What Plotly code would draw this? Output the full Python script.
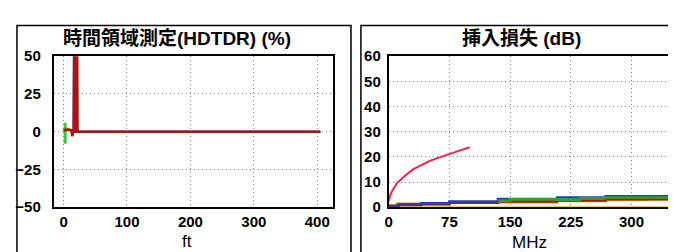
import plotly.graph_objects as go

W, H = 676, 252

# ---- Left panel: time-domain (HDTDR) % vs ft ----
tdr_red_x = [0, 6, 12, 14, 14.5, 16, 17, 17.5, 18.5, 19, 20, 20.5, 21.5, 22, 23, 25, 405]
tdr_red_y = [1, 1.5, 1, -3, 0, 0, 60, 0, 60, 0, 60, 0, 60, 0, 0, 0, 0]
tdr_blue_x = [16, 16.5, 17, 405]
tdr_blue_y = [0, 60, 0, 0]
tdr_green_x = [2.5, 2.5, None, 20, 24]
tdr_green_y = [-8, 6, None, 0.5, 0.5]
tdr_orange_x = [0, 5, 10, 15]
tdr_orange_y = [0.5, 2, 1.5, 0.5]
tdr_xticks = [0, 100, 200, 300, 400]
tdr_yticks = [-50, -25, 0, 25, 50]

# ---- Right panel: insertion loss dB vs MHz ----
il_curve_x = [0, 2, 5, 10, 15, 20, 30, 40, 50, 60, 70, 80, 90, 100]
il_curve_y = [2.5, 5, 7, 9.5, 11, 12.5, 15, 16.8, 18.3, 19.5, 20.7, 21.8, 22.8, 23.8]
il_blue_x = [0, 12, 40, 75, 135, 208, 268, 355]
il_blue_y = [0.5, 1.2, 1.6, 2.3, 3.3, 3.9, 4.4, 4.4]
il_green_x = [135, 150, 208, 236, 268, 355]
il_green_y = [2.6, 3.2, 3.0, 3.6, 3.9, 3.9]
il_red_x = [0, 12, 40, 75, 135, 208, 268, 355]
il_red_y = [0.3, 0.9, 1.2, 1.8, 2.3, 2.7, 3.2, 3.2]
il_orange_x = [0, 10, 40, 75, 135, 208, 268, 320, 355]
il_orange_y = [0.8, 1.4, 1.3, 2.0, 2.0, 2.5, 3.0, 3.2, 3.2]
il_yellow_x = [0, 355]
il_yellow_y = [0.2, 0.2]
il_xticks = [0, 75, 150, 225, 300]
il_yticks = [0, 10, 20, 30, 40, 50, 60]

fig = go.Figure()

def add(x, y, color, xa, ya, width=2.5, shape="linear"):
    fig.add_trace(go.Scatter(x=x, y=y, mode="lines", xaxis=xa, yaxis=ya,
                             line=dict(color=color, width=width, shape=shape),
                             connectgaps=False,
                             showlegend=False, hoverinfo="skip"))

add(tdr_orange_x, tdr_orange_y, "#e8a020", "x", "y")
add(tdr_green_x, tdr_green_y, "#33cc33", "x", "y", 3)
add(tdr_blue_x, tdr_blue_y, "#1f3fd0", "x", "y")
add(tdr_red_x, tdr_red_y, "#b01010", "x", "y")

add(il_yellow_x, il_yellow_y, "#f2d040", "x2", "y2", 2)
add(il_orange_x, il_orange_y, "#f09020", "x2", "y2", 2.5, "hv")
add(il_red_x, il_red_y, "#b01010", "x2", "y2", 2.5, "hv")
add(il_blue_x, il_blue_y, "#1f3fc0", "x2", "y2", 2.5, "hv")
add(il_green_x, il_green_y, "#22aa22", "x2", "y2", 2.5, "hv")
add(il_curve_x, il_curve_y, "#ff2048", "x2", "y2", 2)

tickfont = dict(family="Liberation Sans, Arial, sans-serif", size=15, color="black", weight="bold")
axcommon = dict(showline=True, linecolor="black", linewidth=2, mirror=True,
                showgrid=True, gridcolor="#8088a0", gridwidth=1, griddash="1px,3px",
                zeroline=False, ticks="", tickfont=tickfont, fixedrange=True)

fig.update_layout(
    width=W, height=H, margin=dict(l=0, r=0, t=0, b=0),
    paper_bgcolor="white", plot_bgcolor="white",
    xaxis=dict(domain=[42 / W, 323 / W], range=[-15.5, 425], tickvals=tdr_xticks,
               anchor="y", ticklabelstandoff=0, **axcommon),
    yaxis=dict(domain=[1 - 204 / H, 1 - 42 / H], range=[-50, 50], tickvals=tdr_yticks,
               anchor="x", ticklabelstandoff=8, **axcommon),
    xaxis2=dict(domain=[379 / W, 668 / W], range=[0, 355], tickvals=il_xticks,
                anchor="y2", ticklabelstandoff=0, **axcommon),
    yaxis2=dict(domain=[1 - 204 / H, 1 - 42 / H], range=[0, 60], tickvals=il_yticks,
                anchor="x2", ticklabelstandoff=3, **axcommon),
)

titlefont = dict(family="Liberation Sans, Noto Sans CJK JP, sans-serif", size=19, color="black", weight="bold")
fig.add_annotation(text="時間領域測定(HDTDR) (%)", xref="paper", yref="paper",
                   x=166 / W, y=1 - 23 / H, showarrow=False, font=titlefont,
                   xanchor="center", yanchor="middle")
fig.add_annotation(text="挿入損失 (dB)", xref="paper", yref="paper",
                   x=513 / W, y=1 - 23 / H, showarrow=False, font=titlefont,
                   xanchor="center", yanchor="middle")

axtitlefont = dict(family="Liberation Sans, Arial, sans-serif", size=17, color="black")
fig.add_annotation(text="ft", xref="paper", yref="paper",
                   x=176 / W, y=1 - 241 / H, showarrow=False, font=axtitlefont,
                   xanchor="center", yanchor="middle")
fig.add_annotation(text="MHz", xref="paper", yref="paper",
                   x=521 / W, y=1 - 242 / H, showarrow=False, font=axtitlefont,
                   xanchor="center", yanchor="middle")

# outer panel frames
for x0, x1 in [(5, 341), (351, 690)]:
    fig.add_shape(type="rect", xref="paper", yref="paper",
                  x0=x0 / W, x1=x1 / W, y0=-0.1, y1=1 - 9 / H,
                  line=dict(color="black", width=1.5), fillcolor="rgba(0,0,0,0)")

fig.write_html("out.html")
